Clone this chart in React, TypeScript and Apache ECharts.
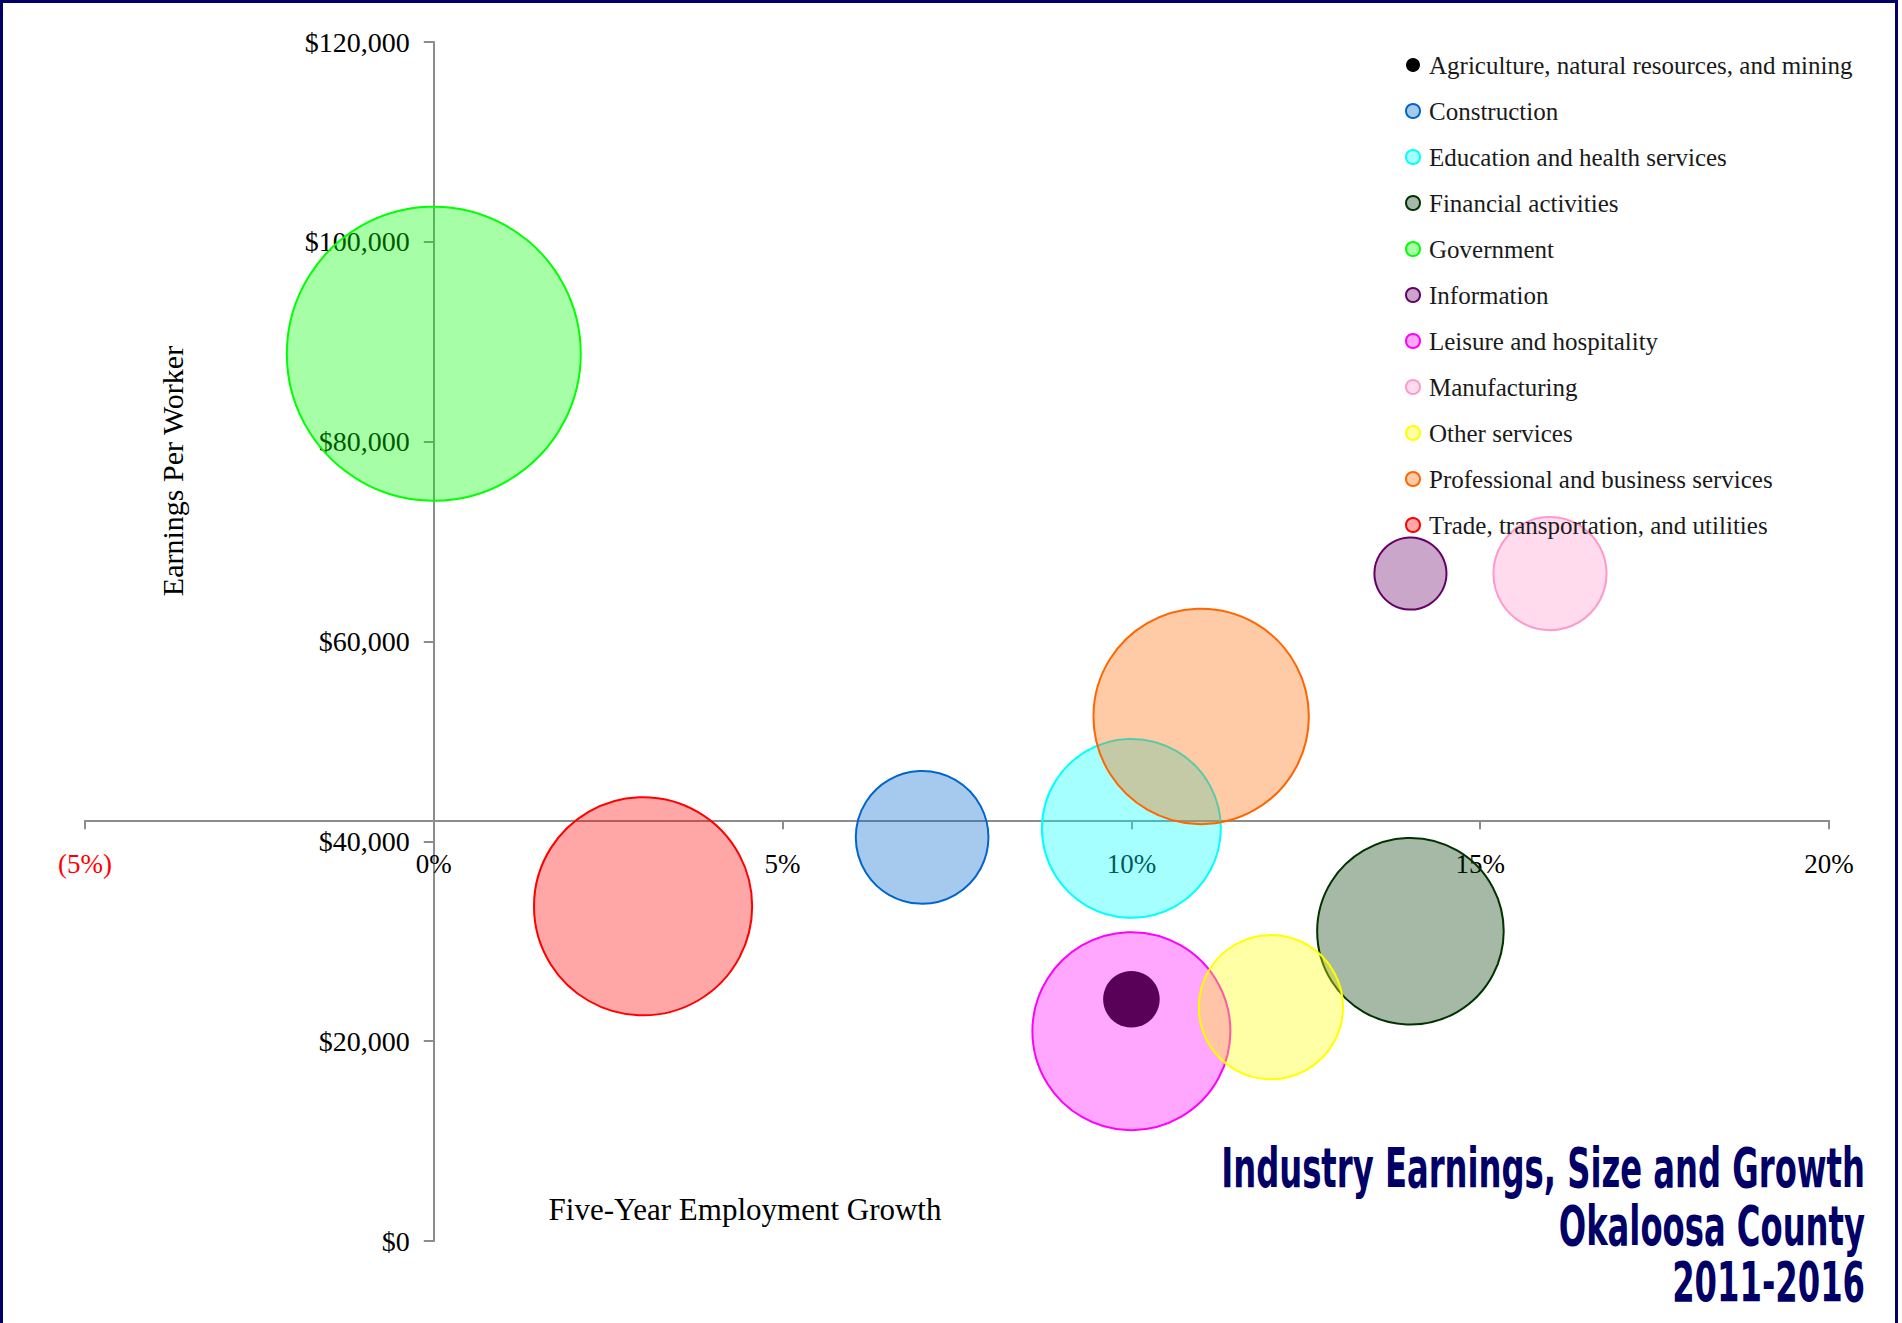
import React, { useEffect, useRef } from "react";
import * as echarts from "echarts";

const industries = [
  "Agriculture, natural resources, and mining",
  "Construction",
  "Education and health services",
  "Financial activities",
  "Government",
  "Information",
  "Leisure and hospitality",
  "Manufacturing",
  "Other services",
  "Professional and business services",
  "Trade, transportation, and utilities",
];
// five-year employment growth, %
const growth = [10, 7, 10, 14, 0, 14, 10, 16, 12, 11, 3];
// earnings per worker, $
const earnings = [24200, 40400, 41300, 31000, 88800, 66800, 21000, 66800, 23400, 52500, 33500];
// employment (bubble size)
const employment = [800, 4400, 8000, 8700, 21600, 1300, 9800, 3200, 5200, 11600, 11900];

const strokeColors = [
  "#000000", "#0066cc", "#00ffff", "#003300", "#00ff00", "#660066",
  "#ff00ff", "#ff99cc", "#ffff00", "#ff6600", "#ff0000",
];

const xTicks = [-5, 0, 5, 10, 15, 20];
const yTicks = [0, 20000, 40000, 60000, 80000, 100000, 120000];
const X_CROSS_EARNINGS = 42100; // earnings value where the horizontal axis crosses
const Y_CROSS_GROWTH = 0; // growth value where the vertical axis crosses

const W = 1902;
const H = 1323;
const GRID = { left: 85, right: 73, top: 42, bottom: 82 };
const SERIF = "'Liberation Serif', 'DejaVu Serif', serif";
const TITLE_FONT = "'Liberation Sans Narrow', 'DejaVu Sans Condensed', 'Liberation Sans', sans-serif";

export default function App() {
  const ref = useRef<HTMLDivElement>(null);
  useEffect(() => {
    if (!ref.current) return;
    const chart = echarts.init(ref.current, null, { renderer: "svg" });
    const xMin = xTicks[0];
    const xMax = xTicks[xTicks.length - 1];
    const yMin = yTicks[0];
    const yMax = yTicks[yTicks.length - 1];
    const plotH = H - GRID.top - GRID.bottom;
    const plotW = W - GRID.left - GRID.right;
    const crossYPix = GRID.top + (1 - (X_CROSS_EARNINGS - yMin) / (yMax - yMin)) * plotH;
    const crossXPix = GRID.left + ((Y_CROSS_GROWTH - xMin) / (xMax - xMin)) * plotW;

    const series = industries.map((name, i) => {
      const isAgri = i === 0;
      return {
        type: "scatter",
        name,
        xAxisIndex: 0,
        yAxisIndex: 0,
        symbol: "circle",
        data: [[growth[i], earnings[i], employment[i]]],
        symbolSize: (v: number[]) => 2 * Math.sqrt(v[2]),
        itemStyle: isAgri
          ? { color: "#000000", opacity: 1 }
          : {
              color: echarts.color.modifyAlpha(strokeColors[i], 0.35),
              borderColor: strokeColors[i],
              borderWidth: 2,
              opacity: 1,
            },
        emphasis: { disabled: true },
        z: 2,
      };
    });

    const gridBase = { containLabel: false, outerBoundsMode: "none" };
    const axisLineStyle = { color: "#8c8c8c", width: 2 };

    const option: any = {
      animation: false,
      backgroundColor: "#ffffff",
      grid: [
        { ...gridBase, ...GRID },
        { ...gridBase, left: GRID.left, right: GRID.right, top: GRID.top, bottom: H - crossYPix },
        { ...gridBase, left: crossXPix, right: GRID.right, top: GRID.top, bottom: GRID.bottom },
      ],
      xAxis: [
        { gridIndex: 0, type: "value", min: xMin, max: xMax, interval: 5, show: false },
        {
          gridIndex: 1,
          type: "value",
          min: xMin,
          max: xMax,
          interval: 5,
          axisLine: { show: true, onZero: false, lineStyle: axisLineStyle },
          axisTick: { show: true, length: 9, lineStyle: axisLineStyle },
          splitLine: { show: false },
          axisLabel: {
            margin: 30,
            fontFamily: SERIF,
            fontSize: 27,
            color: "#000000",
            formatter: (v: number) => (v < 0 ? `{neg|(${Math.abs(v)}%)}` : `${v}%`),
            rich: { neg: { color: "#ff0000", fontFamily: SERIF, fontSize: 27 } },
          },
        },
        { gridIndex: 2, type: "value", min: 0, max: 1, show: false },
      ],
      yAxis: [
        { gridIndex: 0, type: "value", min: yMin, max: yMax, interval: 20000, show: false },
        { gridIndex: 1, type: "value", min: 0, max: 1, show: false },
        {
          gridIndex: 2,
          type: "value",
          position: "left",
          min: yMin,
          max: yMax,
          interval: 20000,
          axisLine: { show: true, onZero: false, lineStyle: axisLineStyle },
          axisTick: { show: true, length: 10, lineStyle: axisLineStyle },
          splitLine: { show: false },
          axisLabel: {
            margin: 24,
            fontFamily: SERIF,
            fontSize: 28,
            color: "#000000",
            formatter: (v: number) => "$" + v.toLocaleString("en-US"),
          },
        },
      ],
      legend: {
        orient: "vertical",
        left: 1400,
        top: 47,
        itemWidth: 14,
        itemHeight: 14,
        itemGap: 20,
        icon: "circle",
        textStyle: { fontFamily: SERIF, fontSize: 25, color: "#1a1a1a", lineHeight: 26, padding: [0, 0, 0, 4] },
        data: industries.map((name) => ({ name })),
        selectedMode: false,
      },
      graphic: [
        {
          type: "rect",
          shape: { x: 1.5, y: 1.5, width: 1895, height: 1400 },
          style: { fill: "none", stroke: "#000066", lineWidth: 3 },
          silent: true,
        },
        {
          type: "text",
          x: 172,
          y: 471,
          rotation: Math.PI / 2,
          style: {
            text: "Earnings Per Worker",
            font: `30px ${SERIF}`,
            fill: "#000000",
            textAlign: "center",
            textVerticalAlign: "middle",
          },
        },
        {
          type: "text",
          x: 745,
          y: 1209,
          style: {
            text: "Five-Year Employment Growth",
            font: `31px ${SERIF}`,
            fill: "#000000",
            textAlign: "center",
            textVerticalAlign: "middle",
          },
        },
        ...["Industry Earnings, Size and Growth", "Okaloosa County", "2011-2016"].map((t, i) => ({
          type: "text",
          x: 1865,
          y: [1167, 1225, 1281][i],
          scaleX: 0.64,
          style: {
            text: t,
            font: `bold 56px ${TITLE_FONT}`,
            fill: "#000066",
            textAlign: "right",
            textVerticalAlign: "middle",
          },
        })),
      ],
      series,
    };
    chart.setOption(option);
    return () => chart.dispose();
  }, []);
  return (
    <div
      ref={ref}
      style={{ position: "absolute", left: 0, top: 0, width: W, height: H }}
    />
  );
}
